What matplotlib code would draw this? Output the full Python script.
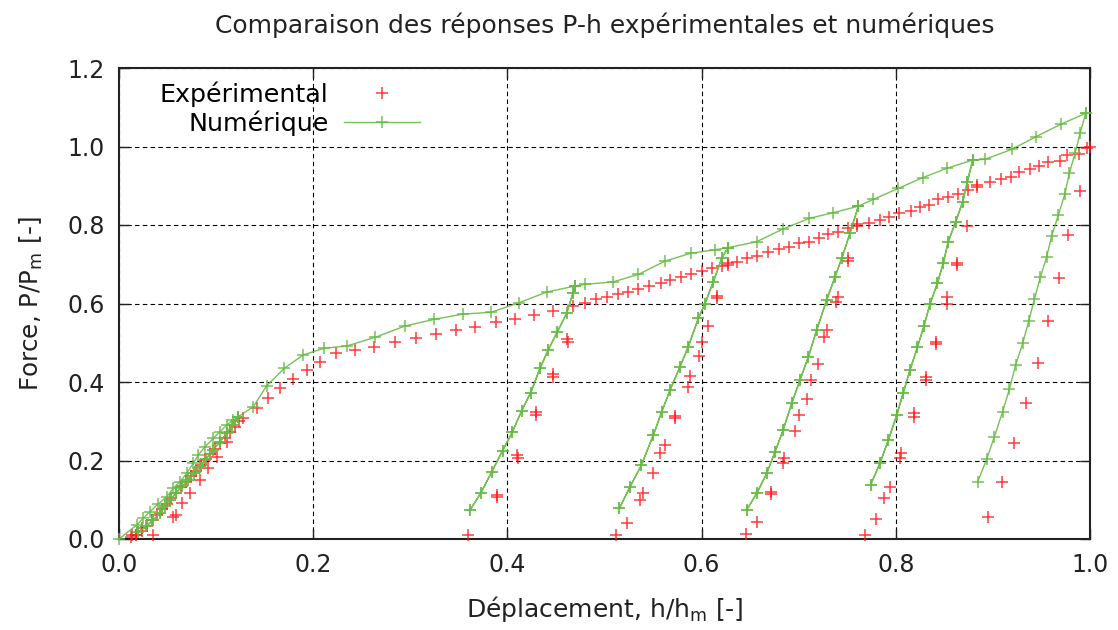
import numpy as np
import matplotlib
matplotlib.use("Agg")
import matplotlib.pyplot as plt

# ---- numerical curve (green): loading envelope pieces and unloading branches
num_env0_h = [0.0, 0.0182, 0.025, 0.0319, 0.0405, 0.0491, 0.0559, 0.0628, 0.0697, 0.0765, 0.0817,
              0.0886, 0.0971, 0.104, 0.111, 0.1177, 0.1229]
num_env0_p = [0.0, 0.0357, 0.0527, 0.0696, 0.0892, 0.1078, 0.129, 0.146, 0.1673, 0.1928, 0.214,
              0.235, 0.2565, 0.2734, 0.2904, 0.3032, 0.3116]
num_unl0_h = [0.1229, 0.116, 0.111, 0.104, 0.097, 0.090, 0.0834, 0.077, 0.0714, 0.065, 0.059,
              0.053, 0.047, 0.0422, 0.035, 0.028, 0.020]
num_unl0_p = [0.3116, 0.290, 0.269, 0.248, 0.227, 0.205, 0.184, 0.167, 0.150, 0.134, 0.118,
              0.100, 0.083, 0.0654, 0.048, 0.032, 0.018]

num_env1_h = [0.1383, 0.152, 0.1703, 0.1898, 0.2111, 0.2345, 0.264, 0.2946, 0.3248, 0.354, 0.383,
              0.412, 0.4404, 0.4696]
num_env1_p = [0.337, 0.39, 0.435, 0.469, 0.486, 0.4917, 0.514, 0.5427, 0.5597, 0.573, 0.5775,
              0.602, 0.629, 0.6446]
num_unl1_h = [0.4696, 0.4675, 0.461, 0.4514, 0.442, 0.4336, 0.424, 0.4147, 0.405, 0.395, 0.3838,
              0.3728, 0.3615]
num_unl1_p = [0.6446, 0.626, 0.575, 0.528, 0.4815, 0.435, 0.3728, 0.327, 0.272, 0.225, 0.1707,
              0.118, 0.0739]

num_env2_h = [0.48, 0.5084, 0.5348, 0.5623, 0.5887, 0.614, 0.627]
num_env2_p = [0.649, 0.6548, 0.674, 0.708, 0.728, 0.737, 0.742]
num_unl2_h = [0.627, 0.6207, 0.612, 0.6035, 0.5966, 0.5863, 0.5778, 0.5675, 0.5589, 0.5503, 0.538,
              0.5263, 0.5153]
num_unl2_p = [0.742, 0.715, 0.655, 0.600, 0.562, 0.490, 0.439, 0.3796, 0.324, 0.265, 0.188,
              0.133, 0.078]

num_env3_h = [0.6567, 0.684, 0.711, 0.7357, 0.7614]
num_env3_p = [0.7575, 0.790, 0.817, 0.8314, 0.848]
num_unl3_h = [0.7614, 0.7528, 0.7443, 0.7374, 0.7288, 0.7185, 0.710, 0.7013, 0.6928, 0.684, 0.6756,
              0.667, 0.6567, 0.6464]
num_unl3_p = [0.848, 0.779, 0.715, 0.668, 0.609, 0.5325, 0.4645, 0.405, 0.3457, 0.2777, 0.222,
              0.167, 0.116, 0.0739]

num_env4_h = [0.777, 0.8026, 0.8277, 0.8524, 0.8792]
num_env4_p = [0.8654, 0.8934, 0.9206, 0.9443, 0.9656]
num_unl4_h = [0.8792, 0.8737, 0.8689, 0.8617, 0.854, 0.849, 0.8428, 0.8352, 0.829, 0.8222, 0.8146,
              0.8077, 0.801, 0.7923, 0.7837, 0.774]
num_unl4_p = [0.9656, 0.910, 0.8594, 0.8085, 0.7575, 0.704, 0.6514, 0.5987, 0.5427, 0.4884, 0.4306,
              0.3728, 0.316, 0.252, 0.193, 0.1376]

num_env5_h = [0.8919, 0.9194, 0.9444, 0.9698, 0.9956]
num_env5_p = [0.9673, 0.9928, 1.025, 1.0565, 1.0845]
num_unl5_h = [0.9956, 0.9897, 0.9846, 0.9787, 0.974, 0.9674, 0.9605, 0.9554, 0.949, 0.9427, 0.937,
              0.9307, 0.9234, 0.9169, 0.910, 0.9015, 0.8936, 0.8843]
num_unl5_p = [1.0845, 1.0336, 0.9826, 0.9317, 0.878, 0.8255, 0.772, 0.719, 0.668, 0.6107, 0.556,
              0.4985, 0.4433, 0.3813, 0.3244, 0.2607, 0.203, 0.146]

# ---- experimental points (red)
exp_load0_h = [0.012, 0.018, 0.024, 0.029, 0.034, 0.039, 0.044, 0.049, 0.054, 0.059, 0.064, 0.069,
               0.074, 0.079, 0.084, 0.089, 0.094, 0.099, 0.104, 0.109, 0.114, 0.119, 0.124]
exp_load0_p = [0.005, 0.010, 0.020, 0.034, 0.048, 0.062, 0.076, 0.090, 0.104, 0.118, 0.132, 0.146,
               0.160, 0.174, 0.188, 0.202, 0.216, 0.230, 0.244, 0.258, 0.272, 0.286, 0.300]
exp_unl0_h = [0.111, 0.1006, 0.092, 0.0834, 0.073, 0.0645, 0.0587, 0.0559, 0.0353, 0.013, 0.018, 0.0233]
exp_unl0_p = [0.248, 0.210, 0.180, 0.150, 0.1164, 0.091, 0.061, 0.057, 0.010, 0.010, 0.010, 0.027]

exp_load1_h = [0.128, 0.1418, 0.1538, 0.1658, 0.1795, 0.1933, 0.207, 0.2232, 0.243, 0.263, 0.284,
               0.3055, 0.326, 0.347, 0.367, 0.388, 0.408, 0.4274, 0.4473, 0.468]
exp_load1_p = [0.3075, 0.333, 0.3585, 0.384, 0.4076, 0.4306, 0.4518, 0.473, 0.4815, 0.490, 0.5027,
               0.511, 0.5215, 0.5325, 0.541, 0.552, 0.5597, 0.5707, 0.5817, 0.5936]
exp_unl1_h = [0.461, 0.462, 0.4466, 0.4466, 0.4295, 0.4295, 0.410, 0.411, 0.389, 0.389, 0.3597]
exp_unl1_p = [0.510, 0.503, 0.421, 0.414, 0.323, 0.317, 0.213, 0.207, 0.113, 0.106, 0.010]

exp_load2_h = [0.480, 0.4913, 0.5023, 0.5136, 0.524, 0.534, 0.5458, 0.5579, 0.5675, 0.5785, 0.5888,
               0.600, 0.6104, 0.6207, 0.6275, 0.6275]
exp_load2_p = [0.602, 0.6107, 0.6174, 0.6234, 0.629, 0.636, 0.6446, 0.651, 0.660, 0.6667, 0.675,
               0.683, 0.6896, 0.6955, 0.7030, 0.6985]
exp_unl2_h = [0.6158, 0.6158, 0.607, 0.600, 0.5973, 0.588, 0.5863, 0.5726, 0.5726, 0.5623, 0.557,
              0.5496, 0.540, 0.5366, 0.5228, 0.5118]
exp_unl2_p = [0.620, 0.613, 0.5427, 0.5027, 0.466, 0.416, 0.388, 0.314, 0.309, 0.2395, 0.218,
              0.169, 0.118, 0.0994, 0.040, 0.0102]

exp_load3_h = [0.6368, 0.6464, 0.6574, 0.6687, 0.6797, 0.690, 0.7003, 0.711, 0.7212, 0.7305,
               0.7408, 0.751, 0.7604, 0.7604]
exp_load3_p = [0.7065, 0.715, 0.721, 0.7304, 0.738, 0.7447, 0.7532, 0.7575, 0.7677, 0.776,
               0.783, 0.7915, 0.802, 0.797]
exp_unl3_h = [0.751, 0.751, 0.7408, 0.7384, 0.7295, 0.726, 0.7195, 0.7124, 0.7082, 0.7006, 0.6962,
              0.6849, 0.684, 0.6711, 0.6711, 0.6567, 0.6457]
exp_unl3_p = [0.715, 0.709, 0.617, 0.6046, 0.5325, 0.5155, 0.4459, 0.405, 0.3567, 0.316, 0.275,
              0.2055, 0.193, 0.121, 0.115, 0.044, 0.012]

exp_load4_h = [0.7727, 0.7837, 0.7933, 0.8036, 0.8153, 0.8249, 0.8345, 0.8438, 0.8541, 0.8644,
               0.8747, 0.8833, 0.8833]
exp_load4_p = [0.806, 0.8127, 0.821, 0.8297, 0.8365, 0.8467, 0.851, 0.8654, 0.872, 0.879,
               0.889, 0.902, 0.897]
exp_unl4_h = [0.873, 0.8627, 0.8627, 0.853, 0.853, 0.8414, 0.8414, 0.8311, 0.8311, 0.819, 0.819,
              0.805, 0.8043, 0.794, 0.788, 0.7796, 0.768]
exp_unl4_p = [0.7975, 0.703, 0.697, 0.617, 0.599, 0.503, 0.497, 0.4135, 0.405, 0.322, 0.310,
              0.218, 0.207, 0.132, 0.104, 0.050, 0.010]

exp_load5_h = [0.897, 0.908, 0.9183, 0.9269, 0.9382, 0.9478, 0.957, 0.969, 0.976, 0.989, 0.9966, 1.0]
exp_load5_p = [0.910, 0.9164, 0.923, 0.9359, 0.942, 0.950, 0.961, 0.963, 0.978, 0.981, 0.9954, 0.999]
exp_unl5_h = [0.9897, 0.9777, 0.968, 0.957, 0.9468, 0.934, 0.9217, 0.9097, 0.8953]
exp_unl5_p = [0.887, 0.7745, 0.664, 0.556, 0.449, 0.3457, 0.2437, 0.146, 0.057]

# build the numerical path: envelope -> unload -> reload (not for the last cycle)
envs = [(num_env0_h, num_env0_p), (num_env1_h, num_env1_p), (num_env2_h, num_env2_p),
        (num_env3_h, num_env3_p), (num_env4_h, num_env4_p), (num_env5_h, num_env5_p)]
unls = [(num_unl0_h, num_unl0_p), (num_unl1_h, num_unl1_p), (num_unl2_h, num_unl2_p),
        (num_unl3_h, num_unl3_p), (num_unl4_h, num_unl4_p), (num_unl5_h, num_unl5_p)]
num_h, num_p = [], []
for i, ((eh, ep), (uh, up)) in enumerate(zip(envs, unls)):
    num_h += eh + uh
    num_p += ep + up
    if i < len(envs) - 1:
        num_h += uh[::-1]
        num_p += up[::-1]

exp_h = np.concatenate([exp_load0_h, exp_unl0_h, exp_load1_h, exp_unl1_h, exp_load2_h, exp_unl2_h,
                        exp_load3_h, exp_unl3_h, exp_load4_h, exp_unl4_h, exp_load5_h, exp_unl5_h])
exp_p = np.concatenate([exp_load0_p, exp_unl0_p, exp_load1_p, exp_unl1_p, exp_load2_p, exp_unl2_p,
                        exp_load3_p, exp_unl3_p, exp_load4_p, exp_unl4_p, exp_load5_p, exp_unl5_p])

plt.rcParams['font.family'] = ['DejaVu Sans']
fig = plt.figure(figsize=(11.18, 6.3), dpi=100)
ax = fig.add_axes([119 / 1118, 91 / 630, 971 / 1118, 471 / 630])

red = '#ff1a1a'
green = '#66bb44'
ax.plot(exp_h, exp_p, linestyle='none', marker='+', markersize=8.5, markeredgewidth=1.1,
        color=red, alpha=0.85, label='Expérimental', clip_on=False, zorder=3)
ax.plot(num_h, num_p, '-', marker='+', markersize=8.5, markeredgewidth=1.1, linewidth=1.0,
        color=green, alpha=0.9, label='Numérique', clip_on=False, zorder=4)

ax.set_xlim(0, 1)
ax.set_ylim(0, 1.2)
ax.set_xticks(np.arange(0, 1.01, 0.2))
ax.set_yticks(np.arange(0, 1.21, 0.2))
ax.xaxis.set_major_formatter(matplotlib.ticker.FormatStrFormatter('%.1f'))
ax.yaxis.set_major_formatter(matplotlib.ticker.FormatStrFormatter('%.1f'))
ax.tick_params(direction='in', length=7, width=1, top=True, right=True,
               labelsize=17, pad=10, colors='#222222')
ax.grid(True, color='black', linestyle=(0, (4, 3)), linewidth=0.8)
for s in ax.spines.values():
    s.set_linewidth(1.5)
    s.set_color('#222222')

ax.set_title('Comparaison des réponses P-h expérimentales et numériques', fontsize=18,
             pad=25, color='#222222')
ax.set_xlabel(r'Déplacement, h/h$_\mathrm{m}$ [-]', fontsize=18, labelpad=12, color='#222222')
ax.set_ylabel(r'Force, P/P$_\mathrm{m}$ [-]', fontsize=17.7, labelpad=16, color='#222222')

leg = ax.legend(loc='upper left', bbox_to_anchor=(0.042, 0.972), markerfirst=False, frameon=False,
                fontsize=18.3, handlelength=3.0, handletextpad=0.6, labelspacing=0.16,
                borderpad=0, borderaxespad=0, numpoints=1)

fig.savefig('out.png', dpi=100)
